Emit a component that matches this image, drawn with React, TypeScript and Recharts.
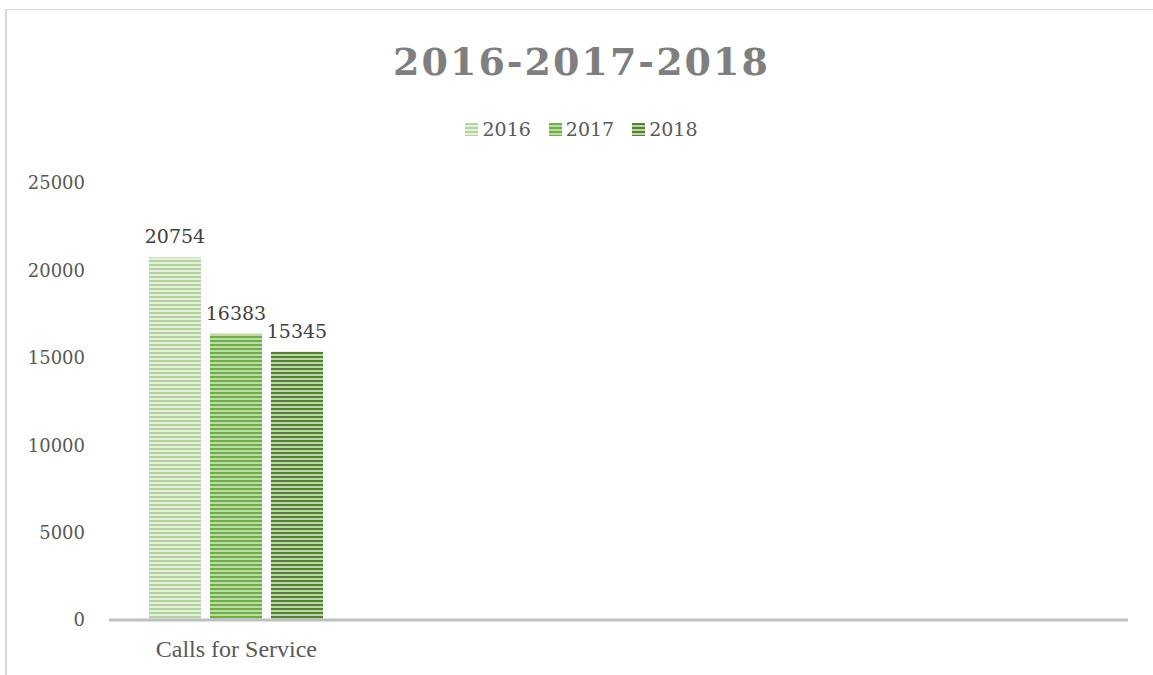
import React from 'react';
import { BarChart, Bar, XAxis, YAxis, LabelList } from 'recharts';

const categories = ['Calls for Service', '', '', ''];
const values2016 = [20754, null, null, null];
const values2017 = [16383, null, null, null];
const values2018 = [15345, null, null, null];
const yTicks = [0, 5000, 10000, 15000, 20000, 25000];
const years = ['2016', '2017', '2018'];

const SERIES: { [key: string]: { dark: string; light: string } } = {
  '2016': { dark: '#b3d49e', light: '#e4f0dc' },
  '2017': { dark: '#70ad47', light: '#bcdba6' },
  '2018': { dark: '#548235', light: '#bcd6aa' },
};

const data = categories.map((name, i) => ({
  name,
  '2016': values2016[i],
  '2017': values2017[i],
  '2018': values2018[i],
}));

const numFont = '"DejaVu Serif", serif';

const Patterns = () => (
  <svg width={0} height={0} style={{ position: 'absolute' }}>
    <defs>
      {years.map((y) => (
        <pattern key={y} id={`stripe${y}`} patternUnits="userSpaceOnUse" width={4} height={4}>
          <rect x={0} y={0} width={4} height={4} fill={SERIES[y].light} />
          <rect x={0} y={0} width={4} height={2} fill={SERIES[y].dark} />
        </pattern>
      ))}
    </defs>
  </svg>
);

const App = () => {
  return (
    <div style={{ position: 'absolute', left: 0, top: 0, width: 1153, height: 675, background: '#fff', overflow: 'hidden' }}>
      <Patterns />
      <div
        style={{
          position: 'absolute',
          left: 5,
          top: 9,
          width: 1200,
          height: 700,
          borderLeft: '2px solid #d9d9d9',
          borderTop: '1px solid #d9d9d9',
        }}
      />
      <div
        style={{
          position: 'absolute',
          left: 0,
          width: 1163,
          top: 39,
          textAlign: 'center',
          fontFamily: numFont,
          fontWeight: 'bold',
          fontSize: 38,
          letterSpacing: 2,
          color: '#7f7f7f',
        }}
      >
        2016-2017-2018
      </div>
      <div
        style={{
          position: 'absolute',
          left: 0,
          width: 1163,
          top: 118,
          display: 'flex',
          justifyContent: 'center',
          gap: 18,
          fontFamily: numFont,
          fontSize: 19,
          color: '#595959',
        }}
      >
        {years.map((y) => (
          <div key={y} style={{ display: 'flex', alignItems: 'center', gap: 4 }}>
            <svg width={13} height={13}>
              <rect width={13} height={13} fill={`url(#stripe${y})`} />
            </svg>
            <span>{y}</span>
          </div>
        ))}
      </div>
      <div style={{ position: 'absolute', left: 0, top: 0 }}>
        <BarChart
          width={1153}
          height={675}
          data={data}
          margin={{ top: 183, right: 25, left: 49, bottom: 15 }}
          barCategoryGap={40}
          barGap={9}
        >
          <YAxis
            width={60}
            domain={[0, 25000]}
            ticks={yTicks}
            axisLine={false}
            tickLine={false}
            tickSize={0}
            tickMargin={24}
            tick={{ fill: '#595959', fontSize: 18, fontFamily: numFont }}
          />
          <XAxis
            dataKey="name"
            height={40}
            axisLine={{ stroke: '#bfbfbf', strokeWidth: 3 }}
            tickLine={false}
            tickSize={0}
            tickMargin={20}
            interval={0}
            tick={{ fill: '#595959', fontSize: 24, fontFamily: '"Liberation Serif", serif' }}
          />
          {years.map((y) => (
            <Bar key={y} dataKey={y} fill={`url(#stripe${y})`} isAnimationActive={false}>
              <LabelList
                dataKey={y}
                position="top"
                offset={14}
                fill="#404040"
                fontSize={19}
                fontFamily={numFont}
              />
            </Bar>
          ))}
        </BarChart>
      </div>
    </div>
  );
};

export default App;
